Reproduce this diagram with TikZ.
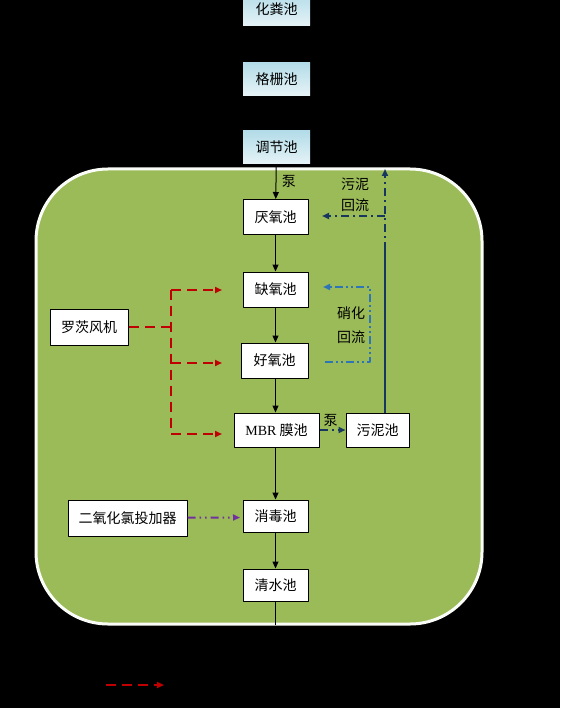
\documentclass[tikz,border=0pt]{standalone}
\usepackage{fontspec}
\setmainfont{Liberation Serif}
\newfontfamily\cjk{Noto Sans CJK SC}
\usetikzlibrary{arrows.meta}
\definecolor{olive}{HTML}{9BBB59}
\definecolor{navy}{HTML}{17375E}
\definecolor{ltblue}{HTML}{2E75B6}
\definecolor{dkred}{HTML}{C00000}
\definecolor{purp}{HTML}{7030A0}
\definecolor{pretop}{HTML}{B3DCE8}
\definecolor{prebot}{HTML}{E6F3F7}
\begin{document}
\begin{tikzpicture}[x=1pt,y=-1pt,>={Triangle[length=7pt,width=6pt]}, line join=round,
    font=\fontsize{14}{16}\selectfont\cjk,
    pool/.style={draw,fill=white,line width=1pt,minimum width=65pt,minimum height=35pt,inner sep=0pt},
    pre/.style={top color=pretop,bottom color=prebot,minimum width=67pt,minimum height=33pt,inner sep=0pt},
    flow/.style={->,line width=1pt},
    air/.style={->,dkred,line width=2pt,dash pattern=on 10pt off 6pt},
    ret/.style={navy,line width=2pt,dash pattern=on 8pt off 4pt on 2pt off 4pt},
    nit/.style={ltblue,line width=2pt,dash pattern=on 8pt off 3pt on 2pt off 3pt on 2pt off 3pt},
    dose/.style={->,purp,line width=2pt,dash pattern=on 8pt off 4pt on 1.5pt off 4pt on 1.5pt off 4pt}]
    \useasboundingbox[fill=black] (0,0) rectangle (560,708);
    % green area
    \draw[fill=olive,draw=white!95!olive,line width=3pt,rounded corners=72pt] (36,169) rectangle (482,624);
    % pre-treatment
    \node[pre] (huafen) at (276.5,9.5) {化粪池};
    \node[pre] (gezha) at (276.5,79) {格栅池};
    \node[pre] (tiaojie) at (276.5,147.5) {调节池};
    % main line
    \node[pool] (yanyang) at (275.5,217) {厌氧池};
    \node[pool] (queyang) at (275.5,289.5) {缺氧池};
    \node[pool,minimum width=67pt] (haoyang) at (274.5,360.5) {好氧池};
    \node[pool,minimum width=85pt,minimum height=34pt] (mbr) at (276.5,430) {{\rmfamily MBR} 膜池};
    \node[pool,minimum width=63pt,minimum height=34pt] (wuni) at (377.5,430) {污泥池};
    \node[pool,minimum width=78pt,minimum height=36pt] (fengji) at (89,327) {罗茨风机};
    \node[pool,minimum width=119pt,minimum height=36pt] (jiayao) at (127.5,518) {二氧化氯投加器};
    \node[pool,minimum height=32pt] (xiaodu) at (275.5,516) {消毒池};
    \node[pool,minimum height=32pt] (qingshui) at (275.5,585) {清水池};
    \coordinate (out) at (275.5,625);
    \draw[flow] (tiaojie) -- node[right,xshift=2pt]{泵} (yanyang);
    \draw[flow] (yanyang) -- (queyang);
    \draw[flow] (queyang) -- (queyang|-haoyang.north);
    \draw[flow] (queyang|-haoyang.south) -- (queyang|-mbr.north);
    \draw[flow] (queyang|-mbr.south) -- (xiaodu);
    \draw[flow] (xiaodu) -- (qingshui);
    \draw[line width=1pt] (qingshui) -- (out);
    % sludge return
    \coordinate (s1) at (385,250);
    \coordinate (s2) at (385,169);
    \coordinate (s3) at (385,216);
    \coordinate (s4) at (322,216);
    \draw[navy,line width=2pt] (s1|-wuni.north) -- (s1);
    \draw[ret,->] (s1) -- (s2);
    \draw[ret,->] (s3) -- (s4);
    \node at (355,184) {污泥};
    \node at (355,205) {回流};
    \draw[ret,->] (mbr) -- node[above,black,xshift=-2pt,yshift=-1pt]{泵} (wuni);
    % nitrate return
    \draw[nit,->] (325,362) -- (370,362) -- (370,287) -- (323,287);
    \node at (351,313) {硝化};
    \node at (351,337) {回流};
    % aeration
    \draw[dkred,line width=2pt,dash pattern=on 10pt off 6pt] (fengji) -- (171,327);
    \draw[dkred,line width=2pt,dash pattern=on 10pt off 6pt] (171,290) -- (171,434);
    \foreach \y in {290,363,434}
        \draw[air] (171,\y) -- (222,\y);
    \draw[dose] (jiayao) -- (240,517.5);
    % legend
    \draw[air] (106,685) -- (164,685);
\end{tikzpicture}
\end{document}
